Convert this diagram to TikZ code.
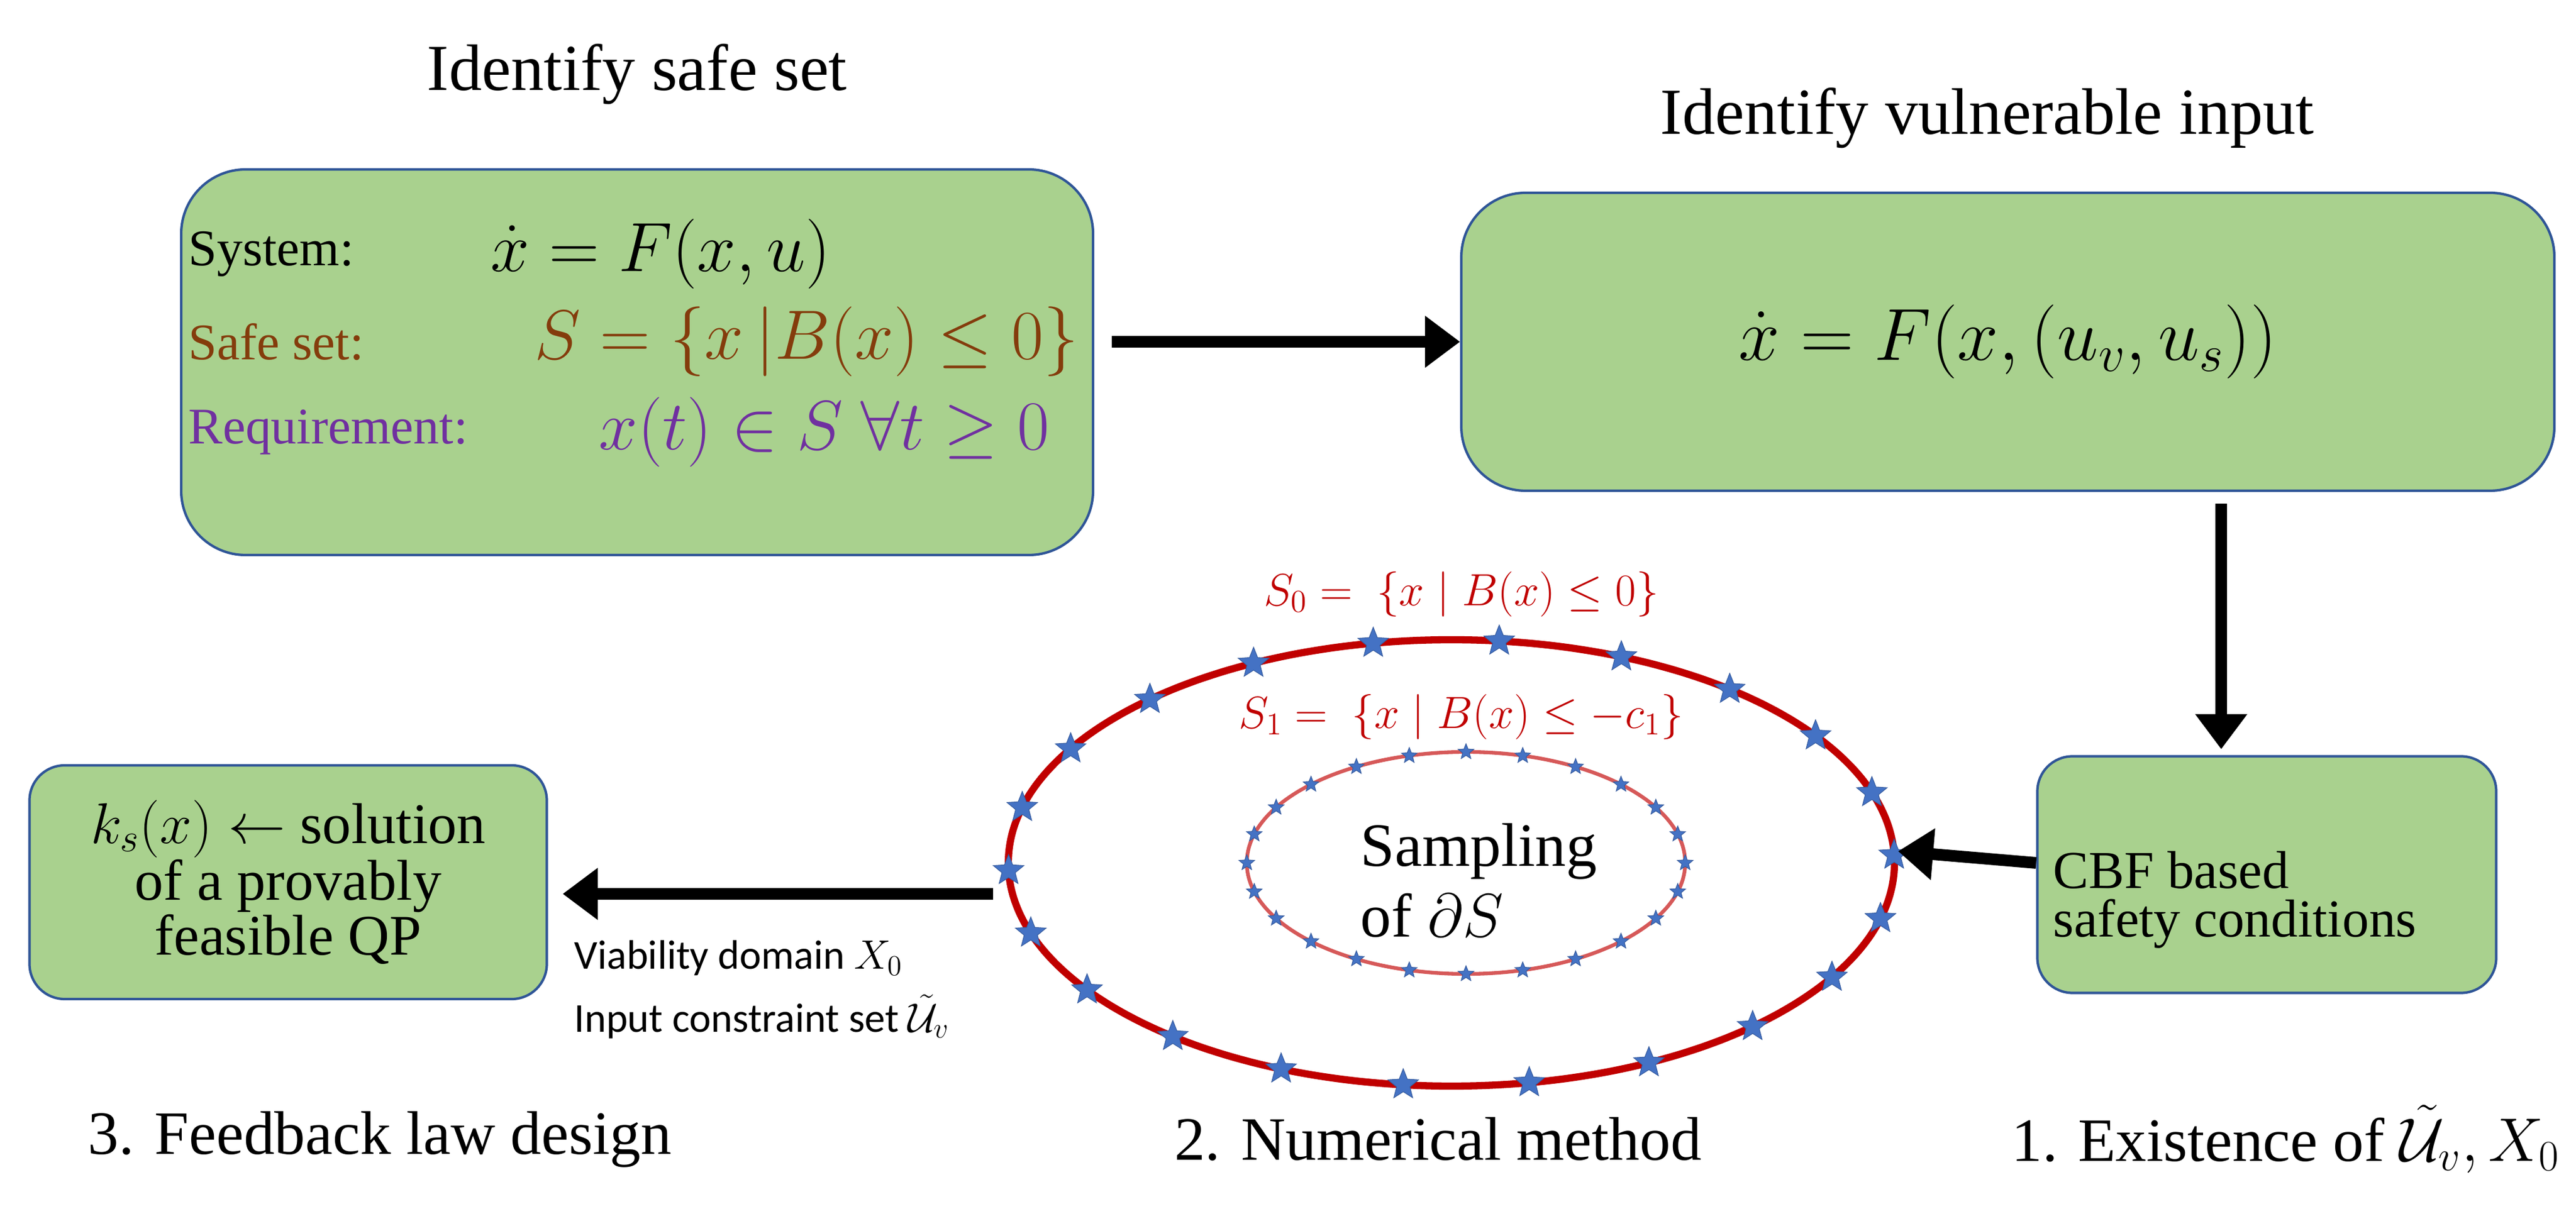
\RequirePackage{fix-cm}
\documentclass[tikz,border=0pt]{standalone}
\usepackage{amsmath}
\usepackage{fontspec}
\setmainfont{Liberation Serif}
\setsansfont{Carlito}
\usetikzlibrary{shapes.geometric,arrows.meta,positioning}
\definecolor{boxgreen}{HTML}{A9D18E}
\definecolor{boxline}{HTML}{2F5597}
\definecolor{brn}{HTML}{843C0C}
\definecolor{purp}{HTML}{7030A0}
\definecolor{dred}{HTML}{C00000}
\definecolor{starblue}{HTML}{4472C4}
\newcommand{\fs}[1]{\fontsize{#1}{1.2\dimexpr#1pt\relax}\selectfont}
\tikzset{
  gbox/.style={draw=boxline, line width=1.2pt, fill=boxgreen, rounded corners=1.1cm},
  arr/.style={line width=0.2cm, -{Triangle[length=0.6cm,width=0.85cm]}},
  bigstar/.style={star, star points=5, star point ratio=2.3, fill=starblue, draw=starblue!80!black, line width=0.3pt, inner sep=0pt, minimum size=0.55cm},
  smallstar/.style={bigstar, minimum size=0.28cm}
}
\begin{document}
\begin{tikzpicture}
        \useasboundingbox (0,0) rectangle (44.07,21.07);
        % boxes
        \node (safe) [gbox, minimum width=15.6cm, minimum height=6.6cm] at (10.9,14.87) {};
        \node (vuln) [gbox, minimum width=18.7cm, minimum height=5.1cm] at (34.35,15.22) {};
        \node (cbf) [gbox, rounded corners=0.6cm, minimum width=7.85cm, minimum height=4.05cm] at (38.78,6.1) {};
        \node (qp) [gbox, rounded corners=0.6cm, minimum width=8.85cm, minimum height=4.0cm] at (4.93,5.97) {};

        % titles
        \node (t1) at (10.9,19.8) {\fs{32}Identify safe set};
        \node (t2) at (34.0,19.05) {\fs{32}Identify vulnerable input};

        % first box
        \node (lsys) [anchor=west] at (3.1,16.72) {\fs{25}System:};
        \node (lsafe) [anchor=west, text=brn] at (3.1,15.22) {\fs{25}Safe set:};
        \node (lreq) [anchor=west, text=purp] at (3.1,13.67) {\fs{25}Requirement:};
        \node (msys) at (11.3,16.72) {\fs{34}$\dot{x} = F(x,u)$};
        \node (msafe) [text=brn] at (13.8,15.22) {\fs{34}$S = \{x\,|B(x) \le 0\}$};
        \node (mreq) [text=purp] at (14.1,13.67) {\fs{34}$x(t) \in S\ \forall t \ge 0$};

        % second box
        \node (mvuln) at (vuln.center) {\fs{36}$\dot{x} = F(x,(u_v,u_s))$};

        % cbf box
        \node (tcbf) [anchor=west, align=left] at (35.0,5.67) {\fs{26}CBF based\\[4pt]\fs{26}safety conditions};

        % qp box
        \node (tqp) [align=center] at (qp.center) {\fs{28}$k_s(x) \leftarrow$ solution\\\fs{28}of a provably\\\fs{28}feasible QP};

        % ellipses
        \node (outer) [ellipse, draw=dred, line width=3.5pt, minimum width=15.16cm, minimum height=7.64cm, inner sep=0pt] at (24.83,6.3) {};
        \node (inner) [ellipse, draw=dred!65, line width=1.8pt, minimum width=7.5cm, minimum height=3.8cm, inner sep=0pt] at (25.08,6.3) {};
        \begin{scope}[shift={(outer.center)}]
            \foreach \a in {2,18.36,...,361}
                \node [bigstar] at (\a:7.58 and 3.82) {};
        \end{scope}
        \begin{scope}[shift={(inner.center)}]
            \foreach \a in {0,15,...,359}
                \node [smallstar] at (\a:3.75 and 1.9) {};
        \end{scope}
        \node (s0) [text=dred] at (25.0,10.9) {\fs{22}$S_0 =\ \{x \mid B(x) \le 0\}$};
        \node (s1) [text=dred] at (25.0,8.8) {\fs{22}$S_1 =\ \{x \mid B(x) \le -c_1\}$};
        \node (samp) [align=left] at (25.3,6.0) {\fs{30}Sampling\\[6pt]\fs{30}of $\partial S$};

        % labels under arrow
        \node (viab) [anchor=west] at (9.7,4.67) {\sffamily\fs{20}Viability domain $X_0$};
        \node (icon) [anchor=west] at (9.7,3.67) {\sffamily\fs{20}Input constraint set $\tilde{\mathcal{U}}_v$};

        % bottom labels
        \node (b3) at (6.5,1.57) {\fs{30}3. Feedback law design};
        \node (b2) at (24.6,1.57) {\fs{30}2. Numerical method};
        \node (b1) at (39.1,1.57) {\fs{30}1. Existence of $\tilde{\mathcal{U}}_v, X_0$};

        % arrows
        \draw[arr] ([xshift=3mm]safe.east |- vuln.west) -- (vuln.west);
        \draw[arr] ([yshift=-2mm]vuln.south -| 38.0,0) -- ([yshift=1mm]cbf.north -| 38.0,0);
        \draw[arr] ([yshift=0.2cm]cbf.west) -- ([yshift=0.2cm]outer.east);
        \draw[arr] ([xshift=-0.2cm,yshift=-0.53cm]outer.west) -- ([xshift=0.25cm]qp.east |- 0,5.77);
\end{tikzpicture}
\end{document}
